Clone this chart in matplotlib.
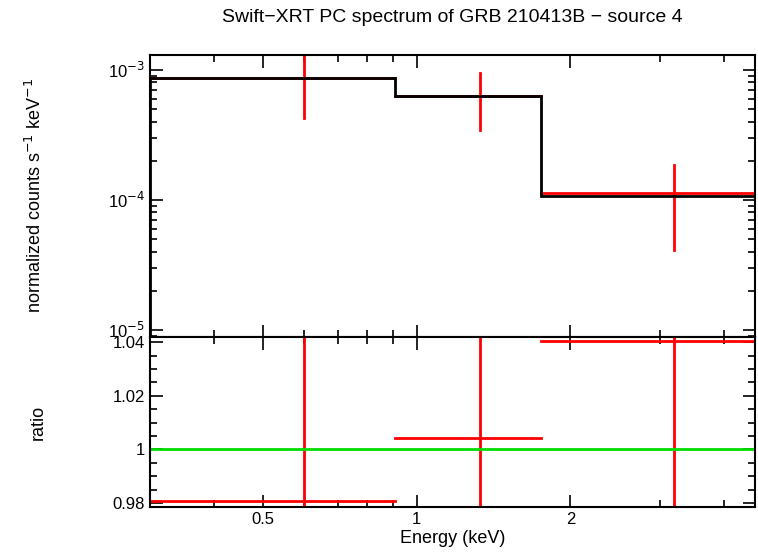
import matplotlib
matplotlib.use("Agg")
import matplotlib.pyplot as plt
import numpy as np
from matplotlib.ticker import FixedLocator, NullFormatter, NullLocator

plt.rcParams["font.family"] = "Liberation Sans"

bin_lo = [0.30, 0.907, 1.75]
bin_hi = [0.907, 1.75, 4.6]
model = [8.7e-4, 6.3e-4, 1.07e-4]
e_center = [0.60, 1.33, 3.19]
data = [8.6e-4, 6.3e-4, 1.12e-4]
data_lo = [4.27e-4, 3.46e-4, 4.1e-5]
data_hi = [2.0e-3, 9.5e-4, 1.86e-4]
ratio = [0.9807, 1.0044, 1.0404]
ratio_lo = [0.49, 0.55, 0.38]
ratio_hi = [2.3, 1.5, 1.74]

fig = plt.figure(figsize=(7.58, 5.56), dpi=100)
W, H = 758, 556
ax1 = fig.add_axes([150/W, 1-337/H, 605/W, 282/H])
ax2 = fig.add_axes([150/W, 1-507/H, 605/W, 170/H], sharex=ax1)

edges = bin_lo + [bin_hi[-1]]
for i in range(3):
    ax1.plot([bin_lo[i], bin_hi[i]], [data[i]]*2, color="red", lw=2, zorder=2)
    ax1.plot([e_center[i]]*2, [data_lo[i], data_hi[i]], color="red", lw=2, zorder=2)
    ax2.plot([bin_lo[i], bin_hi[i]], [ratio[i]]*2, color="red", lw=2)
    ax2.plot([e_center[i]]*2, [ratio_lo[i], ratio_hi[i]], color="red", lw=2)
ax1.stairs(model, edges, color="black", lw=2, zorder=3)
ax2.axhline(1.0, color="#00dd00", lw=2)

ax1.set_xscale("log")
ax1.set_yscale("log")
ax1.set_xlim(0.3, 4.6)
ax1.set_ylim(8.8e-6, 1.3e-3)
ax2.set_ylim(0.9785, 1.0419)
ax2.xaxis.set_major_locator(FixedLocator([0.5, 1, 2]))
ax2.xaxis.set_minor_locator(FixedLocator([0.4,0.6,0.7,0.8,0.9,3,4]))
ax2.set_xticklabels(["0.5", "1", "2"])
ax2.xaxis.set_minor_formatter(NullFormatter())
ax2.set_yticks([0.98, 1.0, 1.02, 1.04])
ax2.set_yticklabels(["0.98", "1", "1.02", "1.04"])
ax2.yaxis.set_minor_locator(FixedLocator(np.arange(0.98, 1.042, 0.005)))
ax1.yaxis.set_major_locator(FixedLocator([1e-5, 1e-4, 1e-3]))
ax1.set_yticklabels([r"10$^{-5}$", r"10$^{-4}$", r"10$^{-3}$"])
plt.setp(ax1.get_xticklabels(), visible=False)

for ax in (ax1, ax2):
    ax.tick_params(which="both", direction="in", top=True, right=True, labelsize=12, width=1.2)
    ax.tick_params(which="major", length=9)
    ax.tick_params(which="minor", length=5)
    for s in ax.spines.values():
        s.set_linewidth(1.5)

ax1.set_ylabel("normalized counts s$^{-1}$ keV$^{-1}$", fontsize=13, labelpad=40)
ax1.yaxis.set_label_coords(-105/605, 0.5)
ax2.set_ylabel("ratio", fontsize=13)
ax2.yaxis.set_label_coords(-103/605, 0.5)
ax2.set_xlabel("Energy (keV)", fontsize=13, labelpad=2)
fig.text(452/W, 1-18/H, "Swift\u2212XRT PC spectrum of GRB 210413B \u2212 source 4",
         ha="center", va="center", fontsize=14)
fig.savefig("out.png", dpi=100)
